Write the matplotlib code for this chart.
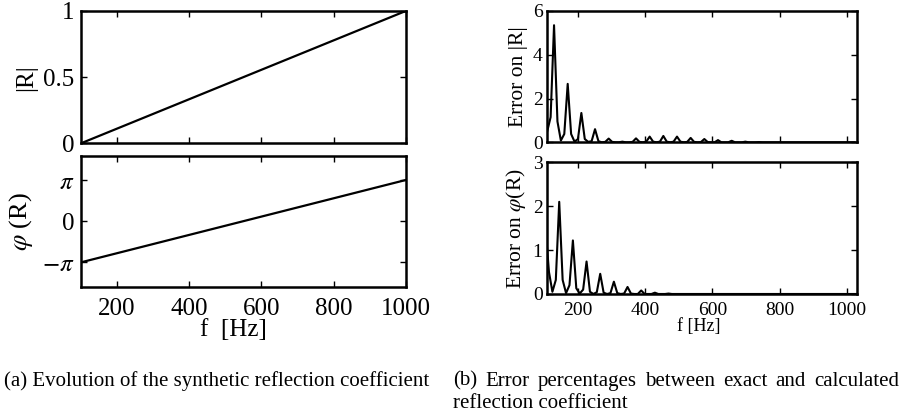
import numpy as np
import matplotlib
matplotlib.use('Agg')
import matplotlib.pyplot as plt

plt.rcParams['font.family'] = ['Liberation Serif', 'DejaVu Serif']
plt.rcParams['mathtext.fontset'] = 'stix'

# (a) synthetic reflection coefficient, straight lines between end points
f_lin = [100, 1000]
mag_R = [0.0, 1.0]
phase_R = [-np.pi, np.pi]

# (b) error percentages, sampled every ~10.18 Hz
f_step = 10.18
f0_mag = 107.5
err_mag = [0.5, 1.15, 5.35, 0.95, 0.08, 0.38, 2.67, 0.38, 0.03, 0.15,
           1.34, 0.15, 0.02, 0.05, 0.6, 0.05, 0.0, 0.02, 0.17, 0.02,
           0.0, 0.0, 0.03, 0.0, 0.0, 0.02, 0.18, 0.02, 0.0, 0.03,
           0.26, 0.03, 0.0, 0.03, 0.29, 0.03, 0.0, 0.03, 0.26, 0.03,
           0.0, 0.02, 0.2, 0.02, 0.0, 0.01, 0.15, 0.01, 0.0, 0.0,
           0.1, 0.0, 0.0, 0.0, 0.07, 0.0, 0.0, 0.0, 0.03, 0.0,
           0.0, 0.0, 0.01, 0.0, 0.0, 0.0, 0.0, 0.0, 0.0, 0.0,
           0.0, 0.0, 0.0, 0.0, 0.0, 0.0, 0.0, 0.0, 0.0, 0.0,
           0.0, 0.0, 0.0, 0.0, 0.0, 0.0, 0.0, 0.0, 0.0, 0.0, 0.0]
f0_phase = 102.6
err_phase = [1.5, 0.5, 0.05, 0.32, 2.1, 0.32, 0.02, 0.2, 1.22, 0.13,
             0.01, 0.1, 0.74, 0.05, 0.0, 0.04, 0.46, 0.03, 0.0, 0.02,
             0.28, 0.02, 0.0, 0.01, 0.16, 0.01, 0.0, 0.0, 0.08, 0.0,
             0.0, 0.0, 0.03, 0.0, 0.0, 0.0, 0.01, 0.0, 0.0, 0.0,
             0.0, 0.0, 0.0, 0.0, 0.0, 0.0, 0.0, 0.0, 0.0, 0.0,
             0.0, 0.0, 0.0, 0.0, 0.0, 0.0, 0.0, 0.0, 0.0, 0.0,
             0.0, 0.0, 0.0, 0.0, 0.0, 0.0, 0.0, 0.0, 0.0, 0.0,
             0.0, 0.0, 0.0, 0.0, 0.0, 0.0, 0.0, 0.0, 0.0, 0.0,
             0.0, 0.0, 0.0, 0.0, 0.0, 0.0, 0.0, 0.0, 0.0, 0.0, 0.0, 0.0]

f_mag = f0_mag + f_step*np.arange(len(err_mag))
f_phase = f0_phase + f_step*np.arange(len(err_phase))

cap_a = '(a) Evolution of the synthetic reflection coefficient'
cap_b1 = '(b) Error percentages between exact and calculated'
cap_b2 = 'reflection coefficient'

fig = plt.figure(figsize=(9.02, 4.15), dpi=100)

def style(ax, size, pad):
    for s in ax.spines.values():
        s.set_linewidth(1.8)
    ax.tick_params(direction='in', top=True, right=True, length=4, width=1,
                   labelsize=size, pad=pad)

# left panel
ax1 = fig.add_axes([0.0898, 0.6547, 0.36, 0.3188])
ax1.plot(f_lin, mag_R, 'k', lw=1.6)
ax1.set_xlim(100, 1000)
ax1.set_ylim(0, 1)
ax1.set_xticks([200, 400, 600, 800, 1000])
ax1.set_xticklabels([])
ax1.set_yticks([0, 0.5, 1])
ax1.set_yticklabels(['0', '0.5', '1'])
style(ax1, 18, 5)
ax1.set_ylabel('|R|', fontsize=18)
ax1.yaxis.set_label_coords(-0.135, 0.5)

ax2 = fig.add_axes([0.0898, 0.3092, 0.36, 0.3157])
ax2.plot(f_lin, phase_R, 'k', lw=1.6)
ax2.set_xlim(100, 1000)
ax2.set_ylim(-5, 5)
ax2.set_xticks([200, 400, 600, 800, 1000])
ax2.set_yticks([-np.pi, 0, np.pi])
ax2.set_yticklabels([r'$-\pi$', '0', r'$\pi$'])
style(ax2, 18, 5)
ax2.tick_params(axis='x', pad=8)
ax2.set_ylabel(r'$\varphi$ (R)', fontsize=19)
ax2.yaxis.set_label_coords(-0.142, 0.5)
ax2.set_xlabel('f  [Hz]', fontsize=18)
ax2.xaxis.set_label_coords(0.47, -0.25)

# right panel
ax3 = fig.add_axes([0.6061, 0.6571, 0.3437, 0.3164])
ax3.plot(f_mag, err_mag, 'k', lw=1.5)
ax3.set_xlim(106, 1030)
ax3.set_ylim(0, 6)
ax3.set_xticks([200, 400, 600, 800, 1000])
ax3.set_xticklabels([])
ax3.set_yticks([0, 2, 4, 6])
style(ax3, 14, 3)
ax3.set_ylabel('Error on |R|', fontsize=15.5)
ax3.yaxis.set_label_coords(-0.059, 0.5)

ax4 = fig.add_axes([0.6061, 0.2916, 0.3437, 0.3173])
ax4.plot(f_phase, err_phase, 'k', lw=1.5)
ax4.set_xlim(106, 1030)
ax4.set_ylim(0, 3)
ax4.set_xticks([200, 400, 600, 800, 1000])
ax4.set_yticks([0, 1, 2, 3])
style(ax4, 14, 3)
ax4.tick_params(axis='x', pad=6)
ax4.set_ylabel(r'Error on $\varphi$(R)', fontsize=15.5)
ax4.yaxis.set_label_coords(-0.059, 0.5)
ax4.set_xlabel('f [Hz]', fontsize=13)
ax4.xaxis.set_label_coords(0.49, -0.18)

# captions
W = 902.0
fig.text(0.004, 1 - 381/415, cap_a, fontsize=15, va='center', ha='left')

# justified first line of caption (b): spread words between x=453 and x=900
renderer = fig.canvas.get_renderer()
words = cap_b1.split()
items = [fig.text(0, 1 - 381/415, w, fontsize=15, va='center', ha='left')
         for w in words]
widths = [t.get_window_extent(renderer).width for t in items]
x0, x1 = 453.0, 899.0
gap = (x1 - x0 - sum(widths)) / (len(words) - 1)
x = x0
for t, wd in zip(items, widths):
    t.set_x(x / W)
    x += wd + gap

fig.text(453 / W, 1 - 403/415, cap_b2, fontsize=15, va='center', ha='left')

fig.savefig('out.png', dpi=100)
